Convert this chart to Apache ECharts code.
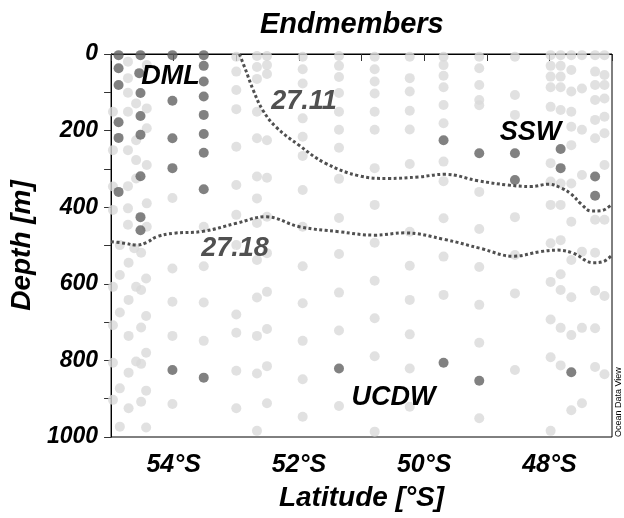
<!DOCTYPE html>
<html>
<head>
<meta charset="utf-8">
<script src="https://cdn.jsdelivr.net/npm/echarts@6/dist/echarts.min.js"></script>
<style>
  html, body { margin: 0; padding: 0; background: #fff; }
  #main { width: 624px; height: 518px; }
</style>
</head>
<body>
<div id="main"></div>
<script>
// light grey stations [latitude °S, depth m]
var lightPoints = [
  [54.73,20],[54.43,29],[54.73,63],[54.73,101],[54.60,129],[54.43,142],[54.73,151],[54.97,151],[54.43,194],[54.60,225],
  [54.73,251],[54.97,251],[54.60,277],[54.43,290],[54.60,325],[54.73,345],[54.97,346],[54.43,390],[54.73,403],[54.97,407],
  [54.73,446],[54.43,451],[54.86,499],[54.63,507],[54.52,519],[54.72,545],[54.86,577],[54.44,586],[54.60,608],[54.52,616],
  [54.97,608],[54.72,642],[54.86,675],[54.44,684],[54.52,714],[54.97,708],[54.72,736],[54.44,780],[54.60,803],[54.52,809],
  [54.97,806],[54.72,832],[54.86,873],[54.44,879],[54.52,908],[54.97,903],[54.72,925],[54.86,973],[54.44,975],
  [54.02,376],[54.02,560],[54.02,647],[54.02,736],[54.02,914],
  [53.52,451],[53.52,554],[53.52,649],[53.52,749],
  [53.0,7],[53.0,46],[53.0,94],[53.0,144],[53.0,242],[53.0,342],[53.0,420],[53.0,499],[53.0,680],[53.0,728],[53.0,827],[53.0,925],
  [52.67,5],[52.67,34],[52.67,65],[52.67,151],[52.67,220],[52.67,320],[52.67,377],[52.67,441],[52.67,538],[52.67,636],[52.67,736],[52.67,834],[52.67,984],
  [52.51,5],[52.51,29],[52.51,52],[52.51,225],[52.51,323],[52.51,425],[52.51,520],[52.51,621],[52.51,718],[52.51,815],[52.51,912],
  [51.94,7],[51.94,40],[51.94,77],[51.94,168],[51.94,216],[51.94,266],[51.94,355],[51.94,451],[51.94,554],[51.94,651],[51.94,749],[51.94,849],[51.94,947],
  [51.36,5],[51.36,31],[51.36,60],[51.36,102],[51.36,151],[51.36,198],[51.36,245],[51.36,326],[51.36,428],[51.36,522],[51.36,623],[51.36,722],[51.36,919],
  [50.79,7],[50.79,40],[50.79,72],[50.79,103],[50.79,151],[50.79,198],[50.79,298],[50.79,394],[50.79,493],[50.79,592],[50.79,690],[50.79,789],[50.79,986],
  [50.23,7],[50.23,63],[50.23,98],[50.23,148],[50.23,197],[50.23,287],[50.23,464],[50.23,553],[50.23,642],[50.23,732],[50.23,821],[50.23,921],
  [49.69,7],[49.69,29],[49.69,57],[49.69,87],[49.69,133],[49.69,181],[49.69,281],[49.69,332],[49.69,429],[49.69,529],[49.69,629],
  [49.12,7],[49.12,37],[49.12,81],[49.12,120],[49.12,134],[49.12,360],[49.12,457],[49.12,556],[49.12,655],[49.12,754],[49.12,951],
  [48.55,7],[48.55,107],[48.55,159],[48.55,426],[48.55,525],[48.55,625],[48.55,825],
  [47.98,3],[47.98,31],[47.98,59],[47.98,87],[47.98,138],[47.98,285],[47.98,333],[47.98,394],[47.98,494],[47.98,595],[47.98,693],[47.98,792],[47.98,984],
  [47.82,3],[47.82,31],[47.82,59],[47.82,87],[47.82,146],[47.82,338],[47.82,394],[47.82,486],[47.82,575],[47.82,616],[47.82,715],[47.82,813],
  [47.65,3],[47.65,42],[47.65,98],[47.65,151],[47.65,190],[47.65,238],[47.65,338],[47.65,438],[47.65,538],[47.65,635],[47.65,734],[47.65,930],
  [47.48,3],[47.48,90],[47.48,198],[47.48,316],[47.48,516],[47.48,715],[47.48,912],
  [47.27,3],[47.27,46],[47.27,81],[47.27,120],[47.27,172],[47.27,220],[47.27,433],[47.27,519],[47.27,618],[47.27,716],[47.27,817],
  [47.12,3],[47.12,55],[47.12,81],[47.12,116],[47.12,164],[47.12,207],[47.12,290],[47.12,433],[47.12,632],[47.12,836]
];

// dark grey = endmember samples
var darkPoints = [
  [54.88,3],[54.88,37],[54.88,81],[54.88,178],[54.88,219],[54.88,360],
  [54.53,3],[54.55,50],[54.53,102],[54.53,162],[54.53,211],[54.53,319],[54.53,426],[54.53,460],
  [54.02,3],[54.02,122],[54.02,220],[54.02,298],[54.02,825],
  [53.52,3],[53.52,31],[53.52,72],[53.52,111],[53.52,159],[53.52,209],[53.52,258],[53.52,353],[53.52,845],
  [51.36,821],
  [49.69,225],[49.69,806],
  [49.12,259],[49.12,853],
  [48.55,259],[48.55,329],
  [47.82,248],[47.82,298],
  [47.65,831],
  [47.27,320],[47.27,370]
];

// isopycnals
var iso2711 = [
  [52.95,0],[52.85,42],[52.73,94],[52.58,146],[52.37,190],[52.0,238],[51.58,285],[51.04,318],[50.57,325],
  [50.09,321],[49.67,314],[49.14,331],[48.67,342],[48.30,346],[48.01,340],[47.81,350],[47.65,366],
  [47.49,392],[47.33,410],[47.17,409],[47.0,392]
];
var iso2718 = [
  [55.0,490],[54.79,494],[54.59,499],[54.43,492],[54.27,477],[54.0,468],[53.53,463],[53.0,442],[52.53,425],
  [51.99,451],[51.36,464],[50.79,473],[50.31,467],[49.68,484],[49.09,508],[48.57,528],[48.14,516],
  [47.87,512],[47.62,520],[47.30,545],[47.14,542],[47.0,525]
];

// water mass / contour labels
var annoText  = ['DML', '27.11', '27.18', 'SSW', 'UCDW'];
var annoLat   = [54.05, 51.92, 53.02, 48.30, 50.49];
var annoDepth = [60, 123, 509, 206, 898];
var annoColor = ['#000000', '#505050', '#505050', '#000000', '#000000'];

var depthTicks = [0, 200, 400, 600, 800, 1000];

var FONT = 'Liberation Sans, Arial, sans-serif';

var chart = echarts.init(document.getElementById('main'));

var annoData = annoText.map(function (t, i) {
  return {
    name: t,
    value: [annoLat[i], annoDepth[i]],
    label: { color: annoColor[i] }
  };
});

var option = {
  backgroundColor: '#fff',
  animation: false,
  title: {
    text: 'Endmembers',
    left: 255,
    top: 5,
    textStyle: { fontFamily: FONT, fontSize: 29, fontWeight: 'bold', fontStyle: 'italic', color: '#000' }
  },
  grid: {
    left: 107, right: 12, top: 54, bottom: 81,
    show: true, borderColor: '#000', borderWidth: 1, backgroundColor: 'transparent'
  },
  xAxis: {
    type: 'value',
    inverse: true,
    min: 47, max: 55, interval: 1,
    name: 'Latitude [°S]',
    nameLocation: 'middle',
    nameGap: 47,
    nameTextStyle: { fontFamily: FONT, fontSize: 28, fontWeight: 'bold', fontStyle: 'italic', color: '#000' },
    axisLine: { lineStyle: { color: '#000', width: 1 } },
    axisTick: { inside: false, length: 7, lineStyle: { color: '#333' } },
    axisLabel: {
      margin: 16,
      fontFamily: FONT, fontSize: 25, fontWeight: 'bold', fontStyle: 'italic', color: '#000',
      formatter: function (v) { return v % 2 === 0 ? v + '°S' : ''; }
    },
    splitLine: { show: false }
  },
  yAxis: {
    type: 'value',
    inverse: true,
    min: 0, max: 1000, interval: 100,
    name: 'Depth [m]',
    nameLocation: 'middle',
    nameGap: 60,
    nameTextStyle: { fontFamily: FONT, fontSize: 28, fontWeight: 'bold', fontStyle: 'italic', color: '#000' },
    axisLine: { lineStyle: { color: '#000', width: 1 } },
    axisTick: { inside: false, length: 7, lineStyle: { color: '#333' } },
    axisLabel: {
      margin: 13,
      fontFamily: FONT, fontSize: 23, fontWeight: 'bold', fontStyle: 'italic', color: '#000',
      formatter: function (v) { return depthTicks.indexOf(v) >= 0 ? String(v) : ''; }
    },
    splitLine: { show: false }
  },
  series: [
    {
      name: 'stations',
      type: 'scatter',
      data: lightPoints,
      symbolSize: 10,
      itemStyle: { color: '#d9d9d9' },
      silent: true
    },
    {
      name: 'endmembers',
      type: 'scatter',
      data: darkPoints,
      symbolSize: 10,
      itemStyle: { color: '#626262' },
      silent: true
    },
    {
      name: '27.11',
      type: 'line',
      data: iso2711,
      smooth: 0.4,
      showSymbol: false,
      lineStyle: { color: '#505050', width: 3, type: [3, 2.5], cap: 'butt' },
      silent: true
    },
    {
      name: '27.18',
      type: 'line',
      data: iso2718,
      smooth: 0.4,
      showSymbol: false,
      lineStyle: { color: '#505050', width: 3, type: [3, 2.5], cap: 'butt' },
      silent: true
    },
    {
      name: 'labels',
      type: 'scatter',
      data: annoData,
      symbolSize: 1,
      itemStyle: { color: '#ffffff', opacity: 1 },
      z: 10,
      label: {
        show: true,
        position: 'inside',
        formatter: '{b}',
        textBorderWidth: 0,
        fontFamily: FONT, fontSize: 27, fontWeight: 'bold', fontStyle: 'italic'
      },
      silent: true
    }
  ],
  graphic: [
    {
      type: 'text',
      x: 614, y: 437,
      rotation: Math.PI / 2,
      style: { text: 'Ocean Data View', font: '9px ' + FONT, fill: '#000', textAlign: 'left', textVerticalAlign: 'top' }
    }
  ]
};

chart.setOption(option);
</script>
</body>
</html>
